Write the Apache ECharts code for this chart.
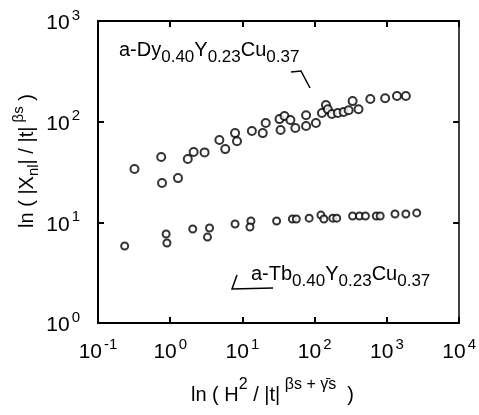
<!DOCTYPE html>
<html>
<head>
<meta charset="utf-8">
<script src="https://cdn.jsdelivr.net/npm/echarts@6/dist/echarts.min.js"></script>
<style>
  html, body { margin: 0; padding: 0; background: #fff; }
  #chart { width: 479px; height: 415px; }
</style>
</head>
<body>
<div id="chart"></div>
<script>
// a-Dy0.40Y0.23Cu0.37 scaling data
const dyX = [0.32, 0.75, 0.77, 1.28, 1.75, 2.11, 2.99, 4.79, 5.78, 7.9, 8.4, 13.5, 19.1, 21, 32.6, 38.2, 33.7, 46.1, 54, 76, 76, 104, 126, 143, 152, 173, 209, 252, 295, 335, 404, 589, 945, 1378, 1829];
const dyY = [33.8, 44.5, 24.6, 27.5, 42.5, 49.9, 49.5, 65.7, 53.4, 77, 64, 80.7, 77, 96.9, 106, 113.7, 82.5, 103.7, 86.4, 116, 90.4, 96.9, 121.7, 146, 133, 119, 122, 124.5, 130, 160, 133, 168, 171, 179.6, 180];

// a-Tb0.40Y0.23Cu0.37 scaling data
const tbX = [0.234, 0.877, 0.90, 2.05, 3.50, 3.28, 7.9, 13.1, 12.7, 29.7, 49.1, 55.7, 83.8, 122, 134, 178, 202, 335, 417, 504, 712, 807, 1294, 1829, 2587];
const tbY = [5.82, 7.65, 6.23, 8.58, 8.78, 7.14, 9.62, 10.3, 8.98, 10.3, 10.8, 10.8, 11.0, 11.8, 10.8, 11.0, 11.0, 11.55, 11.55, 11.55, 11.55, 11.55, 12.1, 12.1, 12.4];

const FONT = "'Liberation Sans', 'DejaVu Sans', sans-serif";

const pairs = (xs, ys) => xs.map((x, i) => [x, ys[i]]);

// power-of-ten label as rich text
const powLabel = v => '{b|10}{p|' + Math.round(Math.log10(v)) + '}';
const powRich = {
  b: { fontFamily: FONT, fontSize: 21, color: '#000', lineHeight: 26, verticalAlign: 'bottom' },
  p: { fontFamily: FONT, fontSize: 15, color: '#000', lineHeight: 26, verticalAlign: 'top', padding: [0, 0, 0, 2] }
};

const chart = echarts.init(document.getElementById('chart'), null, { renderer: 'canvas' });

const axisLine = { show: true, lineStyle: { color: '#000', width: 2 } };
const tickIn = { show: true, inside: true, length: 6, lineStyle: { color: '#000', width: 2 } };

const labelRich = {
  m: { fontFamily: FONT, fontSize: 20, color: '#000', lineHeight: 24, verticalAlign: 'bottom' },
  s: { fontFamily: FONT, fontSize: 17, color: '#000', lineHeight: 24, verticalAlign: 'bottom', padding: [0, 0, -6, 0] }
};

chart.setOption({
  animation: false,
  backgroundColor: '#fff',
  grid: { left: 98, right: 15, top: 21, bottom: 92, show: false },
  xAxis: [
    {
      type: 'log', logBase: 10, min: 0.1, max: 10000,
      axisLine, axisTick: tickIn, splitLine: { show: false },
      minorTick: { show: false },
      axisLabel: { formatter: powLabel, rich: powRich, margin: 14 }
    },
    {
      type: 'log', logBase: 10, min: 0.1, max: 10000, position: 'top',
      axisLine, axisTick: tickIn, splitLine: { show: false },
      axisLabel: { show: false }
    }
  ],
  yAxis: [
    {
      type: 'log', logBase: 10, min: 1, max: 1000,
      axisLine, axisTick: tickIn, splitLine: { show: false },
      axisLabel: { formatter: powLabel, rich: powRich, margin: 18 }
    },
    {
      type: 'log', logBase: 10, min: 1, max: 1000, position: 'right',
      axisLine: { show: true, lineStyle: { color: '#000', width: 1.5 } },
      axisTick: tickIn, splitLine: { show: false },
      axisLabel: { show: false }
    }
  ],
  series: [
    {
      name: 'a-Dy0.40Y0.23Cu0.37', type: 'scatter',
      data: pairs(dyX, dyY), symbol: 'circle', symbolSize: 8,
      itemStyle: { color: '#fff', borderColor: '#000', borderWidth: 2 }
    },
    {
      name: 'a-Tb0.40Y0.23Cu0.37', type: 'scatter',
      data: pairs(tbX, tbY), symbol: 'circle', symbolSize: 7,
      itemStyle: { color: '#fff', borderColor: '#000', borderWidth: 2 }
    }
  ],
  graphic: [
    // series labels
    {
      type: 'text', left: 119, top: 40,
      style: {
        text: '{m|a-Dy}{s|0.40}{m|Y}{s|0.23}{m|Cu}{s|0.37}',
        rich: labelRich
      }
    },
    {
      type: 'polyline',
      shape: { points: [[291, 72], [301, 71], [310, 88]] },
      style: { stroke: '#000', lineWidth: 1.5, fill: null }
    },
    {
      type: 'text', left: 251, top: 264,
      style: {
        text: '{m|a-Tb}{s|0.40}{m|Y}{s|0.23}{m|Cu}{s|0.37}',
        rich: labelRich
      }
    },
    {
      type: 'polyline',
      shape: { points: [[237, 275], [232, 289], [273, 288]] },
      style: { stroke: '#000', lineWidth: 1.5, fill: null }
    },
    // axis titles
    {
      type: 'text', left: 191, top: 377,
      style: {
        text: '{m|ln ( H}{u|2}{m| / |t|}{u| βs + γ̄s}{m|  )}',
        rich: {
          m: { fontFamily: FONT, fontSize: 20, color: '#000', lineHeight: 28, verticalAlign: 'bottom' },
          u: { fontFamily: FONT, fontSize: 16, color: '#000', lineHeight: 28, verticalAlign: 'top' }
        }
      }
    },
    {
      type: 'text', x: 24, y: 161, rotation: Math.PI / 2,
      style: {
        text: '{m|ln ( |X}{s|nl}{m|| / |t|}{u| βs}{m| )}',
        align: 'center', verticalAlign: 'middle',
        rich: {
          m: { fontFamily: FONT, fontSize: 20, color: '#000', lineHeight: 26, verticalAlign: 'bottom' },
          s: { fontFamily: FONT, fontSize: 15, color: '#000', lineHeight: 26, verticalAlign: 'bottom', padding: [0, 0, -4, 0] },
          u: { fontFamily: FONT, fontSize: 15, color: '#000', lineHeight: 26, verticalAlign: 'top' }
        }
      }
    }
  ]
});
</script>
</body>
</html>
